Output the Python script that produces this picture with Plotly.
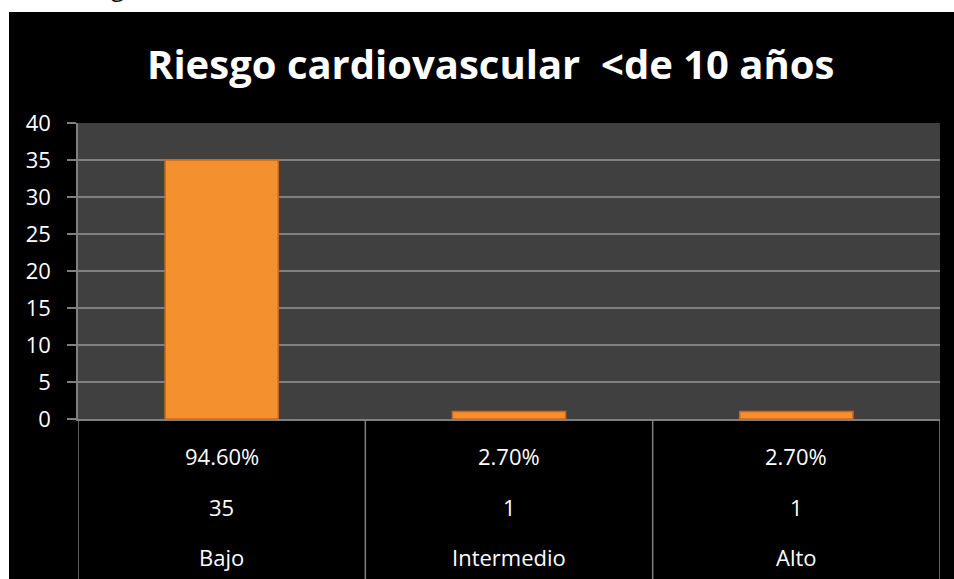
import plotly.graph_objects as go

categories = ["Bajo", "Intermedio", "Alto"]
counts = [35, 1, 1]
percents = ["94.60%", "2.70%", "2.70%"]
y_ticks = [0, 5, 10, 15, 20, 25, 30, 35, 40]
title_text = "Riesgo cardiovascular \u00a0<de 10 años"

W, H = 954, 579
L, R, T, B = 78, 14, 123, 160
PW, PH = W - L - R, H - T - B

def px_x(px):
    return (px - L) / PW

def px_y(py):
    return (H - B - py) / PH

FONT = "Open Sans"
grid = "#808080"

fig = go.Figure()
fig.add_trace(go.Bar(
    x=categories, y=counts, width=0.394,
    marker=dict(color="#F5902F", line=dict(color="#C9681D", width=1.5)),
    hoverinfo="skip",
))

shapes = []
# white strips (outside chart area)
shapes.append(dict(type="rect", xref="paper", yref="paper", x0=px_x(-5), x1=px_x(W + 5),
                   y0=px_y(12), y1=px_y(-5), fillcolor="white", line_width=0, layer="above"))
shapes.append(dict(type="rect", xref="paper", yref="paper", x0=px_x(-5), x1=px_x(9),
                   y0=px_y(H + 5), y1=px_y(-5), fillcolor="white", line_width=0, layer="above"))
# table vertical lines
n = len(categories)
for i in range(n + 1):
    shapes.append(dict(type="line", xref="x", yref="paper", x0=i - 0.5, x1=i - 0.5,
                       y0=0, y1=px_y(H + 2), line=dict(color=grid, width=1.5), layer="above"))

annotations = []
for i, cat in enumerate(categories):
    for txt, py in ((percents[i], 456), (str(counts[i]), 507), (cat, 557)):
        annotations.append(dict(x=cat, xref="x", y=px_y(py), yref="paper", text=txt,
                                showarrow=False, xanchor="center", yanchor="middle",
                                font=dict(family=FONT, size=22, color="white")))
annotations.append(dict(x=px_x(490), xref="paper", y=px_y(64), yref="paper", text="<b>" + title_text + "</b>",
                        showarrow=False, xanchor="center", yanchor="middle",
                        font=dict(family=FONT, size=40, color="white")))
annotations.append(dict(x=px_x(117), xref="paper", y=px_y(5), yref="paper", text="g",
                        showarrow=False, xanchor="center", yanchor="bottom",
                        font=dict(family=FONT, size=24, color="black")))

fig.update_layout(
    width=W, height=H,
    margin=dict(l=L, r=R, t=T, b=B, pad=0),
    paper_bgcolor="black", plot_bgcolor="#404040",
    showlegend=False, bargap=0.6,
    shapes=shapes, annotations=annotations,
    xaxis=dict(showticklabels=False, ticks="", showgrid=False, showline=True,
               linecolor=grid, linewidth=1.5, range=[-0.5, n - 0.5], fixedrange=True),
    yaxis=dict(range=[0, 40], tickvals=y_ticks, ticks="outside", ticklen=9, tickcolor=grid,
               tickwidth=1.5, showline=True, linecolor=grid, linewidth=1.5,
               gridcolor=grid, gridwidth=1.5, zeroline=False,
               tickfont=dict(family=FONT, size=22, color="white"),
               ticklabelstandoff=12, fixedrange=True),
)

fig.write_html("out.html", config={"displayModeBar": False},
               post_script="document.body.style.margin='0';document.body.style.overflow='hidden';")
